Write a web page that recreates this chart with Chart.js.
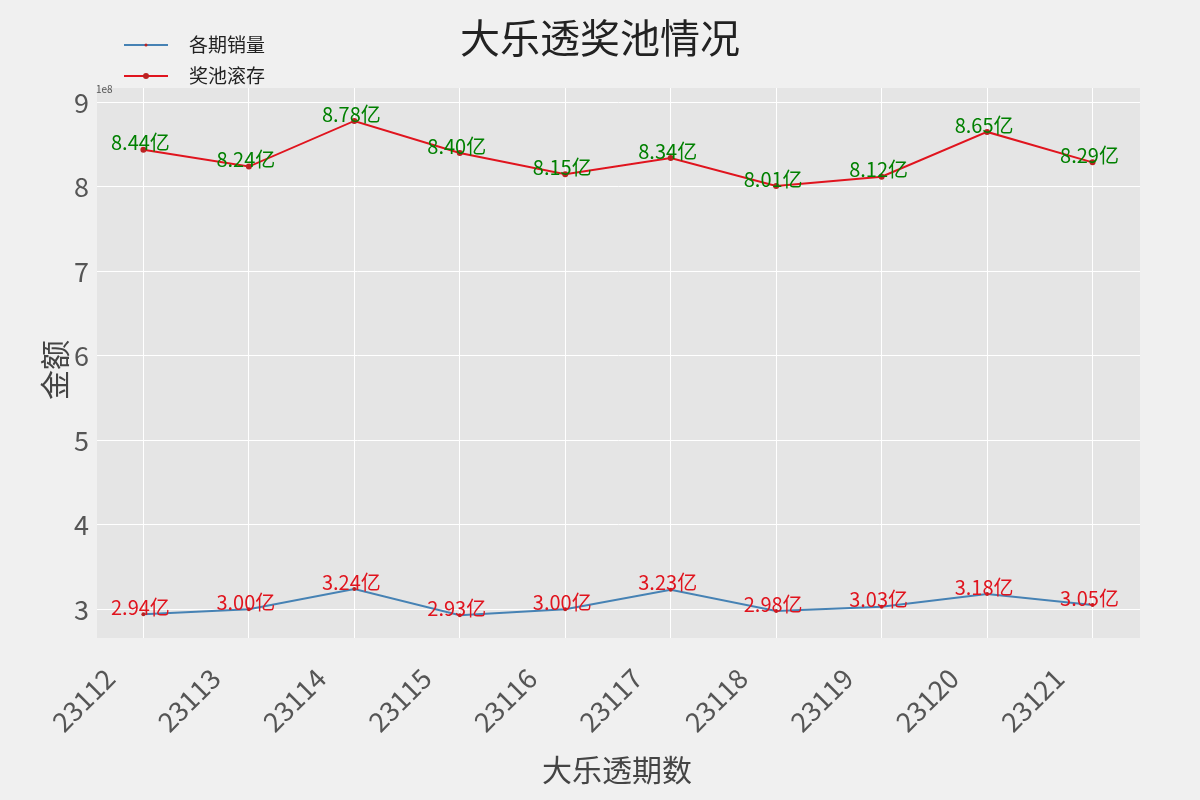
<!DOCTYPE html>
<html><head><meta charset="utf-8">
<script src="https://cdn.jsdelivr.net/npm/chart.js@4"></script>
<style>html,body{margin:0;background:#f0f0f0}#c{display:block}</style>
</head><body>
<canvas id="c" width="1200" height="800"></canvas>
<script>
// 期数 + 数据（单位：亿）
const periods = ['23112','23113','23114','23115','23116','23117','23118','23119','23120','23121'];
const sales = [2.94, 3.00, 3.24, 2.93, 3.00, 3.23, 2.98, 3.03, 3.18, 3.05];
const pool = [8.44, 8.24, 8.78, 8.40, 8.15, 8.34, 8.01, 8.12, 8.65, 8.29];
const yTicks = [3, 4, 5, 6, 7, 8, 9];

const FONT = '"Noto Sans CJK SC", "DejaVu Sans", sans-serif';
const BLUE = '#4682b4', RED = '#e0141e';

const deco = {
  id: 'deco',
  beforeDraw(ch) {
    const { ctx, chartArea: a } = ch;
    ctx.save();
    ctx.fillStyle = '#f0f0f0'; ctx.fillRect(0, 0, ch.width, ch.height);
    ctx.fillStyle = '#e5e5e5'; ctx.fillRect(a.left, a.top, a.right - a.left, a.bottom - a.top);
    ctx.restore();
  },
  afterDatasetsDraw(ch) {
    const { ctx } = ch;
    ctx.save();
    ctx.font = '20px ' + FONT; ctx.textAlign = 'center'; ctx.textBaseline = 'bottom';
    [0, 1].forEach(di => {
      const meta = ch.getDatasetMeta(di), arr = di === 0 ? sales : pool;
      ctx.fillStyle = di === 0 ? RED : 'green';
      meta.data.forEach((p, i) => ctx.fillText(arr[i].toFixed(2) + '亿', p.x - 3, p.y + 3));
    });
    // x 刻度（matplotlib 式 45° 居中旋转）
    ctx.fillStyle = '#555'; ctx.font = '27px ' + FONT; ctx.textBaseline = 'middle';
    const xs = ch.scales.x;
    periods.forEach((t, i) => {
      ctx.save(); ctx.translate(xs.getPixelForValue(i) - 60, 700); ctx.rotate(-Math.PI / 4);
      ctx.fillText(t, 0, 0); ctx.restore();
    });
    // 标题
    ctx.fillStyle = '#222'; ctx.font = '40px ' + FONT;
    ctx.fillText('大乐透奖池情况', 600, 38);
    ctx.fillStyle = '#444'; ctx.font = '30px ' + FONT;
    ctx.fillText('大乐透期数', 617, 770);
    ctx.save(); ctx.translate(55, 370); ctx.rotate(-Math.PI / 2);
    ctx.fillText('金额', 0, 0); ctx.restore();
    ctx.font = '10px ' + FONT; ctx.textAlign = 'left'; ctx.fillStyle = '#555';
    ctx.fillText('1e8', 96, 89);
    // 图例
    ctx.font = '19px ' + FONT;
    [['各期销量', BLUE, 45, 1.5], ['奖池滚存', RED, 76, 3]].forEach(([t, c, y, r]) => {
      ctx.strokeStyle = c; ctx.lineWidth = 2;
      ctx.beginPath(); ctx.moveTo(124, y); ctx.lineTo(168, y); ctx.stroke();
      ctx.fillStyle = '#b22'; ctx.beginPath(); ctx.arc(146, y, r, 0, Math.PI * 2); ctx.fill();
      ctx.fillStyle = '#222'; ctx.fillText(t, 189, y);
    });
    ctx.restore();
  }
};

new Chart(document.getElementById('c'), {
  type: 'line',
  data: {
    datasets: [
      { label: '各期销量', data: sales.map((v, i) => ({ x: i, y: v })), borderColor: BLUE, borderWidth: 2,
        pointRadius: 2, pointBackgroundColor: '#b22', pointBorderWidth: 0, tension: 0 },
      { label: '奖池滚存', data: pool.map((v, i) => ({ x: i, y: v })), borderColor: RED, borderWidth: 2,
        pointRadius: 3, pointBackgroundColor: '#b22', pointBorderWidth: 0, tension: 0 }
    ]
  },
  options: {
    responsive: false, animation: false,
    layout: { padding: { top: 88, right: 60, left: 0, bottom: 0 } },
    plugins: { legend: { display: false }, tooltip: { enabled: false } },
    scales: {
      x: {
        type: 'linear', min: -0.44, max: 9.45,
        afterBuildTicks: s => { s.ticks = periods.map((_, i) => ({ value: i })); },
        afterFit: s => { s.height = 162; },
        ticks: { display: false },
        grid: { color: '#fff', lineWidth: 1, drawTicks: false }, border: { display: false }
      },
      y: {
        min: 2.66, max: 9.17,
        afterBuildTicks: s => { s.ticks = yTicks.map(v => ({ value: v })); },
        afterFit: s => { s.width = 97; },
        ticks: { color: '#555', font: { family: FONT, size: 27 }, padding: 8 },
        grid: { color: '#fff', lineWidth: 1, drawTicks: false }, border: { display: false }
      }
    }
  },
  plugins: [deco]
});
</script>
</body></html>
